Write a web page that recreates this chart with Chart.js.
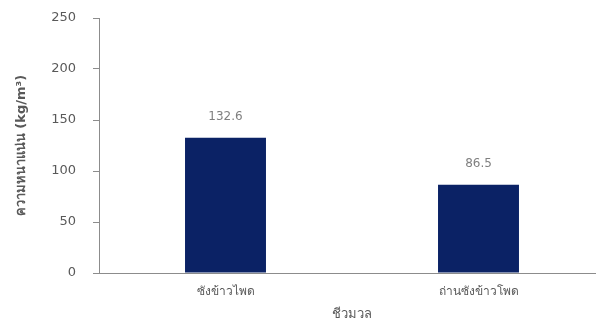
<!DOCTYPE html>
<html>
<head>
<meta charset="utf-8">
<script src="https://cdn.jsdelivr.net/npm/chart.js@4"></script>
<style>
html,body{margin:0;padding:0;background:#fff;overflow:hidden;}
#wrap{width:596px;height:336px;overflow:hidden;position:relative;}
#c{position:absolute;left:0;top:0;}
</style>
</head>
<body>
<div id="wrap"><canvas id="c" width="606" height="336"></canvas></div>
<script>
const categories = ["ซังข้าวไพด", "ถ่านซังข้าวโพด"];
const densityValues = [132.6, 86.5];
const yTickValues = [0, 50, 100, 150, 200, 250];
const xTitle = "ชีวมวล";
const yTitle = "ความหนาแน่น (kg/m³)";

const FONT = "'DejaVu Sans', 'Noto Sans', sans-serif";

const valueLabels = {
  id: 'valueLabels',
  afterDatasetsDraw(chart) {
    const ctx = chart.ctx;
    const meta = chart.getDatasetMeta(0);
    ctx.save();
    ctx.font = "12px " + FONT;
    ctx.fillStyle = "#7f7f7f";
    ctx.textAlign = "center";
    ctx.textBaseline = "middle";
    meta.data.forEach((bar, i) => {
      ctx.fillText(densityValues[i].toFixed(1), bar.x, bar.y - 21);
    });
    ctx.restore();
  }
};

new Chart(document.getElementById('c'), {
  type: 'bar',
  data: {
    labels: categories,
    datasets: [{
      data: densityValues,
      backgroundColor: '#0b2265',
      borderWidth: 0,
      barPercentage: 0.32,
      categoryPercentage: 1.0
    }]
  },
  options: {
    responsive: false,
    animation: false,
    devicePixelRatio: 1,
    layout: { padding: { top: 18, right: 1, left: 0, bottom: 0 } },
    plugins: { legend: { display: false }, tooltip: { enabled: false } },
    scales: {
      x: {
        grid: { display: false },
        border: { display: true, color: '#8c8c8c', width: 1 },
        ticks: { color: '#595959', font: { family: FONT, size: 12 }, padding: 4, maxRotation: 0 },
        title: { display: true, text: xTitle, color: '#595959', font: { family: FONT, size: 13 }, padding: { top: 0, bottom: 14 } },
        afterFit(scale) { scale.height = 63; scale.paddingLeft = 0; scale.paddingRight = 0; }
      },
      y: {
        min: 0,
        max: 250,
        afterBuildTicks(scale) { scale.ticks = yTickValues.map(v => ({ value: v })); },
        grid: { display: true, drawOnChartArea: false, drawTicks: true, tickLength: 6, color: '#8c8c8c' },
        border: { display: true, color: '#8c8c8c', width: 1 },
        ticks: { color: '#595959', font: { family: FONT, size: 13 }, padding: 17 },
        title: { display: true, text: yTitle, color: '#595959', font: { family: FONT, size: 13, weight: 'bold' }, padding: { top: 14, bottom: 0 } },
        afterFit(scale) { scale.width = 99; scale.paddingTop = 0; scale.paddingBottom = 0; }
      }
    }
  },
  plugins: [valueLabels]
});
</script>
</body>
</html>
